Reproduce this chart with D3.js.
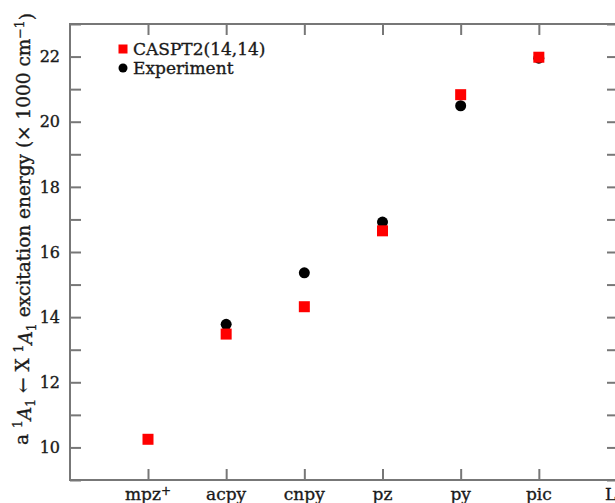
<!DOCTYPE html>
<html>
<head>
<meta charset="utf-8">
<script src="https://d3js.org/d3.v7.min.js"></script>
<style>
  body { margin: 0; background: #fff; }
  svg { display: block; }
  text { font-family: "DejaVu Serif", serif; fill: #1a1a1a; stroke: #1a1a1a; stroke-width: 0.35px; }
</style>
</head>
<body>
<div id="chart"></div>
<script>
// Data
const categories = ['mpz+', 'acpy', 'cnpy', 'pz', 'py', 'pic', 'L'];
const caspt2 = [10.25, 13.48, 14.32, 16.65, 20.83, 21.98, null];
const experiment = [null, 13.78, 15.36, 16.92, 20.49, 21.95, null];
const yTicks = [10, 12, 14, 16, 18, 20, 22];

const W = 615, H = 503;
const margin = { top: 24, right: -3, bottom: 23, left: 70 };
const width = W - margin.left - margin.right;
const height = H - margin.top - margin.bottom;

const svg = d3.select('#chart')
  .append('svg')
  .attr('width', W)
  .attr('height', H);

const g = svg.append('g')
  .attr('transform', `translate(${margin.left},${margin.top})`);

// Scales
const x = d3.scalePoint()
  .domain(categories)
  .range([78, width - 1]);

const y = d3.scaleLinear()
  .domain([9, 23])
  .range([height, 0]);

const minorTicks = d3.range(9, 24, 1);
const axisColor = '#777';
const tickLen = 11;

// Frame
g.append('rect')
  .attr('width', width)
  .attr('height', height)
  .attr('fill', 'none')
  .attr('stroke', axisColor)
  .attr('stroke-width', 2);

// Left axis ticks (inward) + labels
g.append('g')
  .call(d3.axisLeft(y).tickValues(minorTicks).tickSize(-tickLen).tickFormat(''))
  .call(s => s.select('.domain').remove())
  .call(s => s.selectAll('line').attr('stroke', axisColor).attr('stroke-width', 2));

g.append('g')
  .selectAll('text')
  .data(yTicks)
  .enter()
  .append('text')
  .attr('x', -10)
  .attr('y', d => y(d))
  .attr('dy', '0.36em')
  .attr('text-anchor', 'end')
  .style('font-size', '16px')
  .text(d => d);

// Right axis ticks (inward)
g.append('g')
  .attr('transform', `translate(${width},0)`)
  .call(d3.axisRight(y).tickValues(minorTicks).tickSize(-tickLen).tickFormat(''))
  .call(s => s.select('.domain').remove())
  .call(s => s.selectAll('line').attr('stroke', axisColor).attr('stroke-width', 2));

// Bottom axis ticks (inward)
g.append('g')
  .attr('transform', `translate(0,${height})`)
  .call(d3.axisBottom(x).tickSize(-tickLen).tickFormat(''))
  .call(s => s.select('.domain').remove())
  .call(s => s.selectAll('line').attr('stroke', axisColor).attr('stroke-width', 2));

// Top axis ticks (inward)
g.append('g')
  .call(d3.axisTop(x).tickSize(-tickLen).tickFormat(''))
  .call(s => s.select('.domain').remove())
  .call(s => s.selectAll('line').attr('stroke', axisColor).attr('stroke-width', 2));

// Category labels
const xl = g.append('g')
  .selectAll('text')
  .data(categories)
  .enter()
  .append('text')
  .attr('x', (d, i) => x(d) + (i === categories.length - 1 ? -12 : 0))
  .attr('y', height + 20)
  .attr('text-anchor', (d, i) => i === categories.length - 1 ? 'start' : 'middle')
  .style('font-size', '17px');

xl.each(function (d) {
  const t = d3.select(this);
  if (d.endsWith('+')) {
    t.append('tspan').text(d.slice(0, -1));
    t.append('tspan').attr('dy', '-0.45em').style('font-size', '12px').text('+');
  } else {
    t.text(d);
  }
});

// Experiment points (drawn first)
const expData = categories.map((c, i) => ({ c, v: experiment[i] })).filter(d => d.v != null);
g.selectAll('.exp')
  .data(expData)
  .enter()
  .append('circle')
  .attr('class', 'exp')
  .attr('cx', d => x(d.c))
  .attr('cy', d => y(d.v))
  .attr('r', 5.5)
  .attr('fill', '#000');

// CASPT2 points
const s = 11;
const casData = categories.map((c, i) => ({ c, v: caspt2[i] })).filter(d => d.v != null);
g.selectAll('.cas')
  .data(casData)
  .enter()
  .append('rect')
  .attr('class', 'cas')
  .attr('x', d => x(d.c) - s / 2)
  .attr('y', d => y(d.v) - s / 2)
  .attr('width', s)
  .attr('height', s)
  .attr('fill', '#f00');

// Legend
const legend = g.append('g').attr('transform', 'translate(53,0)');
legend.append('rect')
  .attr('x', -4.5).attr('y', 25 - 4.5)
  .attr('width', 9).attr('height', 9)
  .attr('fill', '#f00');
legend.append('text')
  .attr('x', 10).attr('y', 31)
  .style('font-size', '17px')
  .text('CASPT2(14,14)');
legend.append('circle')
  .attr('cx', 0).attr('cy', 44)
  .attr('r', 4.5)
  .attr('fill', '#000');
legend.append('text')
  .attr('x', 10).attr('y', 50)
  .style('font-size', '17px')
  .text('Experiment');

// Y axis label
const yl = svg.append('text')
  .attr('transform', 'translate(28,229) rotate(-90)')
  .attr('text-anchor', 'middle')
  .style('font-size', '18.5px');
const sub = '12.5px';
yl.append('tspan').text('a ');
yl.append('tspan').attr('dy', '-0.5em').style('font-size', sub).text('1');
yl.append('tspan').attr('dy', '0.5em').style('font-style', 'italic').text('A');
yl.append('tspan').attr('dy', '0.3em').style('font-size', sub).text('1');
yl.append('tspan').attr('dy', '-0.3em').text(' \u2190 X ');
yl.append('tspan').attr('dy', '-0.5em').style('font-size', sub).text('1');
yl.append('tspan').attr('dy', '0.5em').style('font-style', 'italic').text('A');
yl.append('tspan').attr('dy', '0.3em').style('font-size', sub).text('1');
yl.append('tspan').attr('dy', '-0.3em').text(' excitation energy (\u00d7 1000 cm');
yl.append('tspan').attr('dy', '-0.5em').style('font-size', sub).text('\u22121');
yl.append('tspan').attr('dy', '0.5em').text(')');
</script>
</body>
</html>
